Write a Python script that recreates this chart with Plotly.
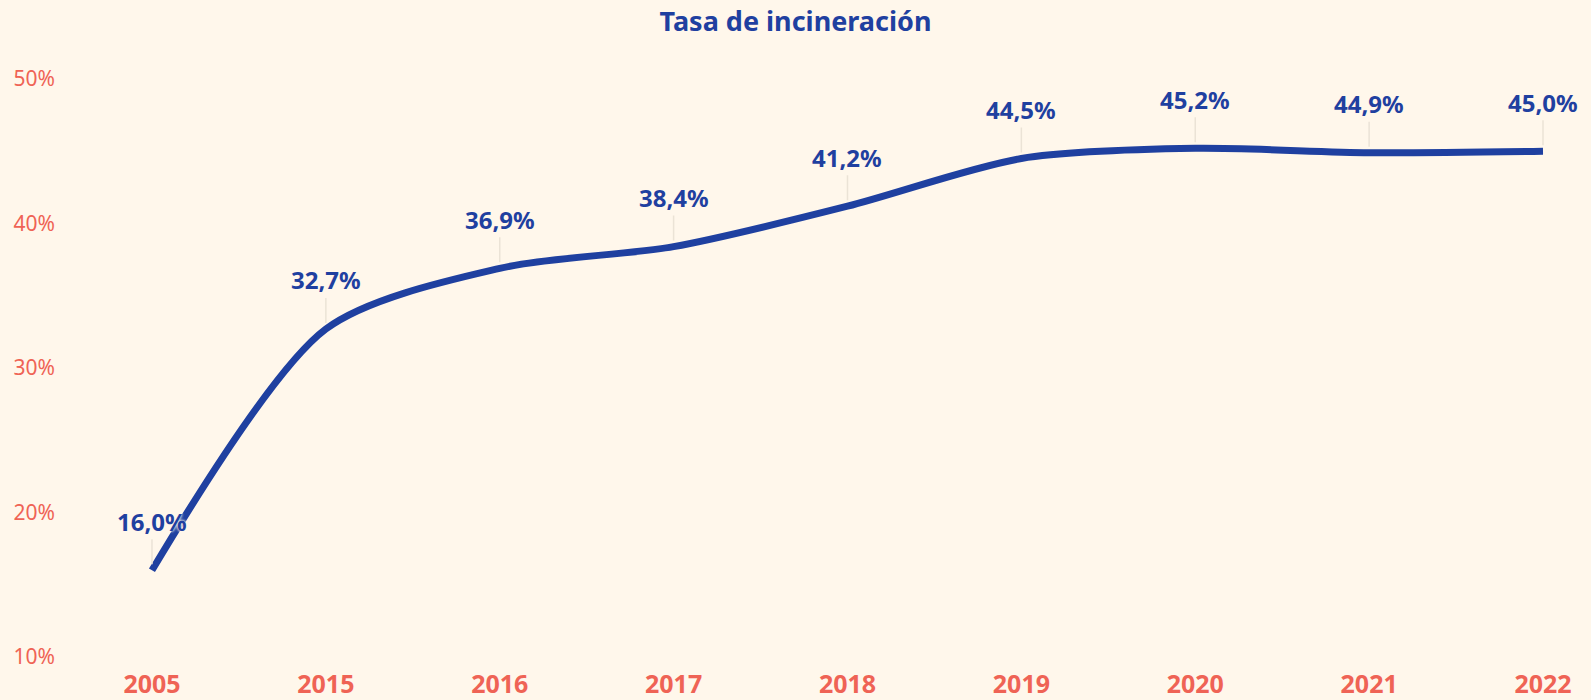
import plotly.graph_objects as go

years = ["2005", "2015", "2016", "2017", "2018", "2019", "2020", "2021", "2022"]
rates = [16.0, 32.7, 36.9, 38.4, 41.2, 44.5, 45.2, 44.9, 45.0]
labels = ["16,0%", "32,7%", "36,9%", "38,4%", "41,2%", "44,5%", "45,2%", "44,9%", "45,0%"]
y_ticks = [10, 20, 30, 40, 50]
y_ticktext = ["10%", "20%", "30%", "40%", "50%"]

BG = "#fff7eb"
BLUE = "#1f40a0"
RED = "#ef6355"

idx = list(range(len(years)))

fig = go.Figure()
fig.add_trace(go.Scatter(
    x=idx, y=rates, mode="lines",
    line=dict(color=BLUE, width=7, shape="spline", smoothing=0.8),
    hoverinfo="skip", showlegend=False,
))

for i, (v, t) in enumerate(zip(rates, labels)):
    fig.add_annotation(
        x=i, y=v, xref="x", yref="y", text=t,
        showarrow=True, arrowhead=0, arrowwidth=1.5, arrowcolor="#ebe3d6",
        ax=0, ay=-49, standoff=6,
        font=dict(family="Noto Sans", size=24, color=BLUE, weight="bold",
                  shadow="0 0 3px " + BG + ", 0 0 3px " + BG),
    )

fig.update_layout(
    width=1591, height=700,
    paper_bgcolor=BG, plot_bgcolor=BG,
    margin=dict(l=60, r=40, t=79, b=43),
    title=dict(text="<b>Tasa de incineración</b>", x=0.5, xanchor="center",
               y=1 - 22 / 700, yanchor="middle",
               font=dict(family="Noto Sans", size=27, color=BLUE)),
    xaxis=dict(range=[-0.529, 8.046], tickvals=idx, ticktext=years,
               showgrid=False, zeroline=False, showline=False, ticks="",
               ticklabelstandoff=10, automargin=False,
               tickfont=dict(family="Noto Sans", size=25, color=RED, weight="bold")),
    yaxis=dict(range=[10, 50], tickvals=y_ticks, ticktext=y_ticktext,
               showgrid=False, zeroline=False, showline=False, ticks="",
               ticklabelstandoff=4, automargin=False,
               tickfont=dict(family="Noto Sans", size=21, color=RED)),
)

fig.write_html(
    "out.html",
    config={"displayModeBar": False},
    post_script="document.body.style.margin='0';document.body.style.background='" + BG + "';",
)
